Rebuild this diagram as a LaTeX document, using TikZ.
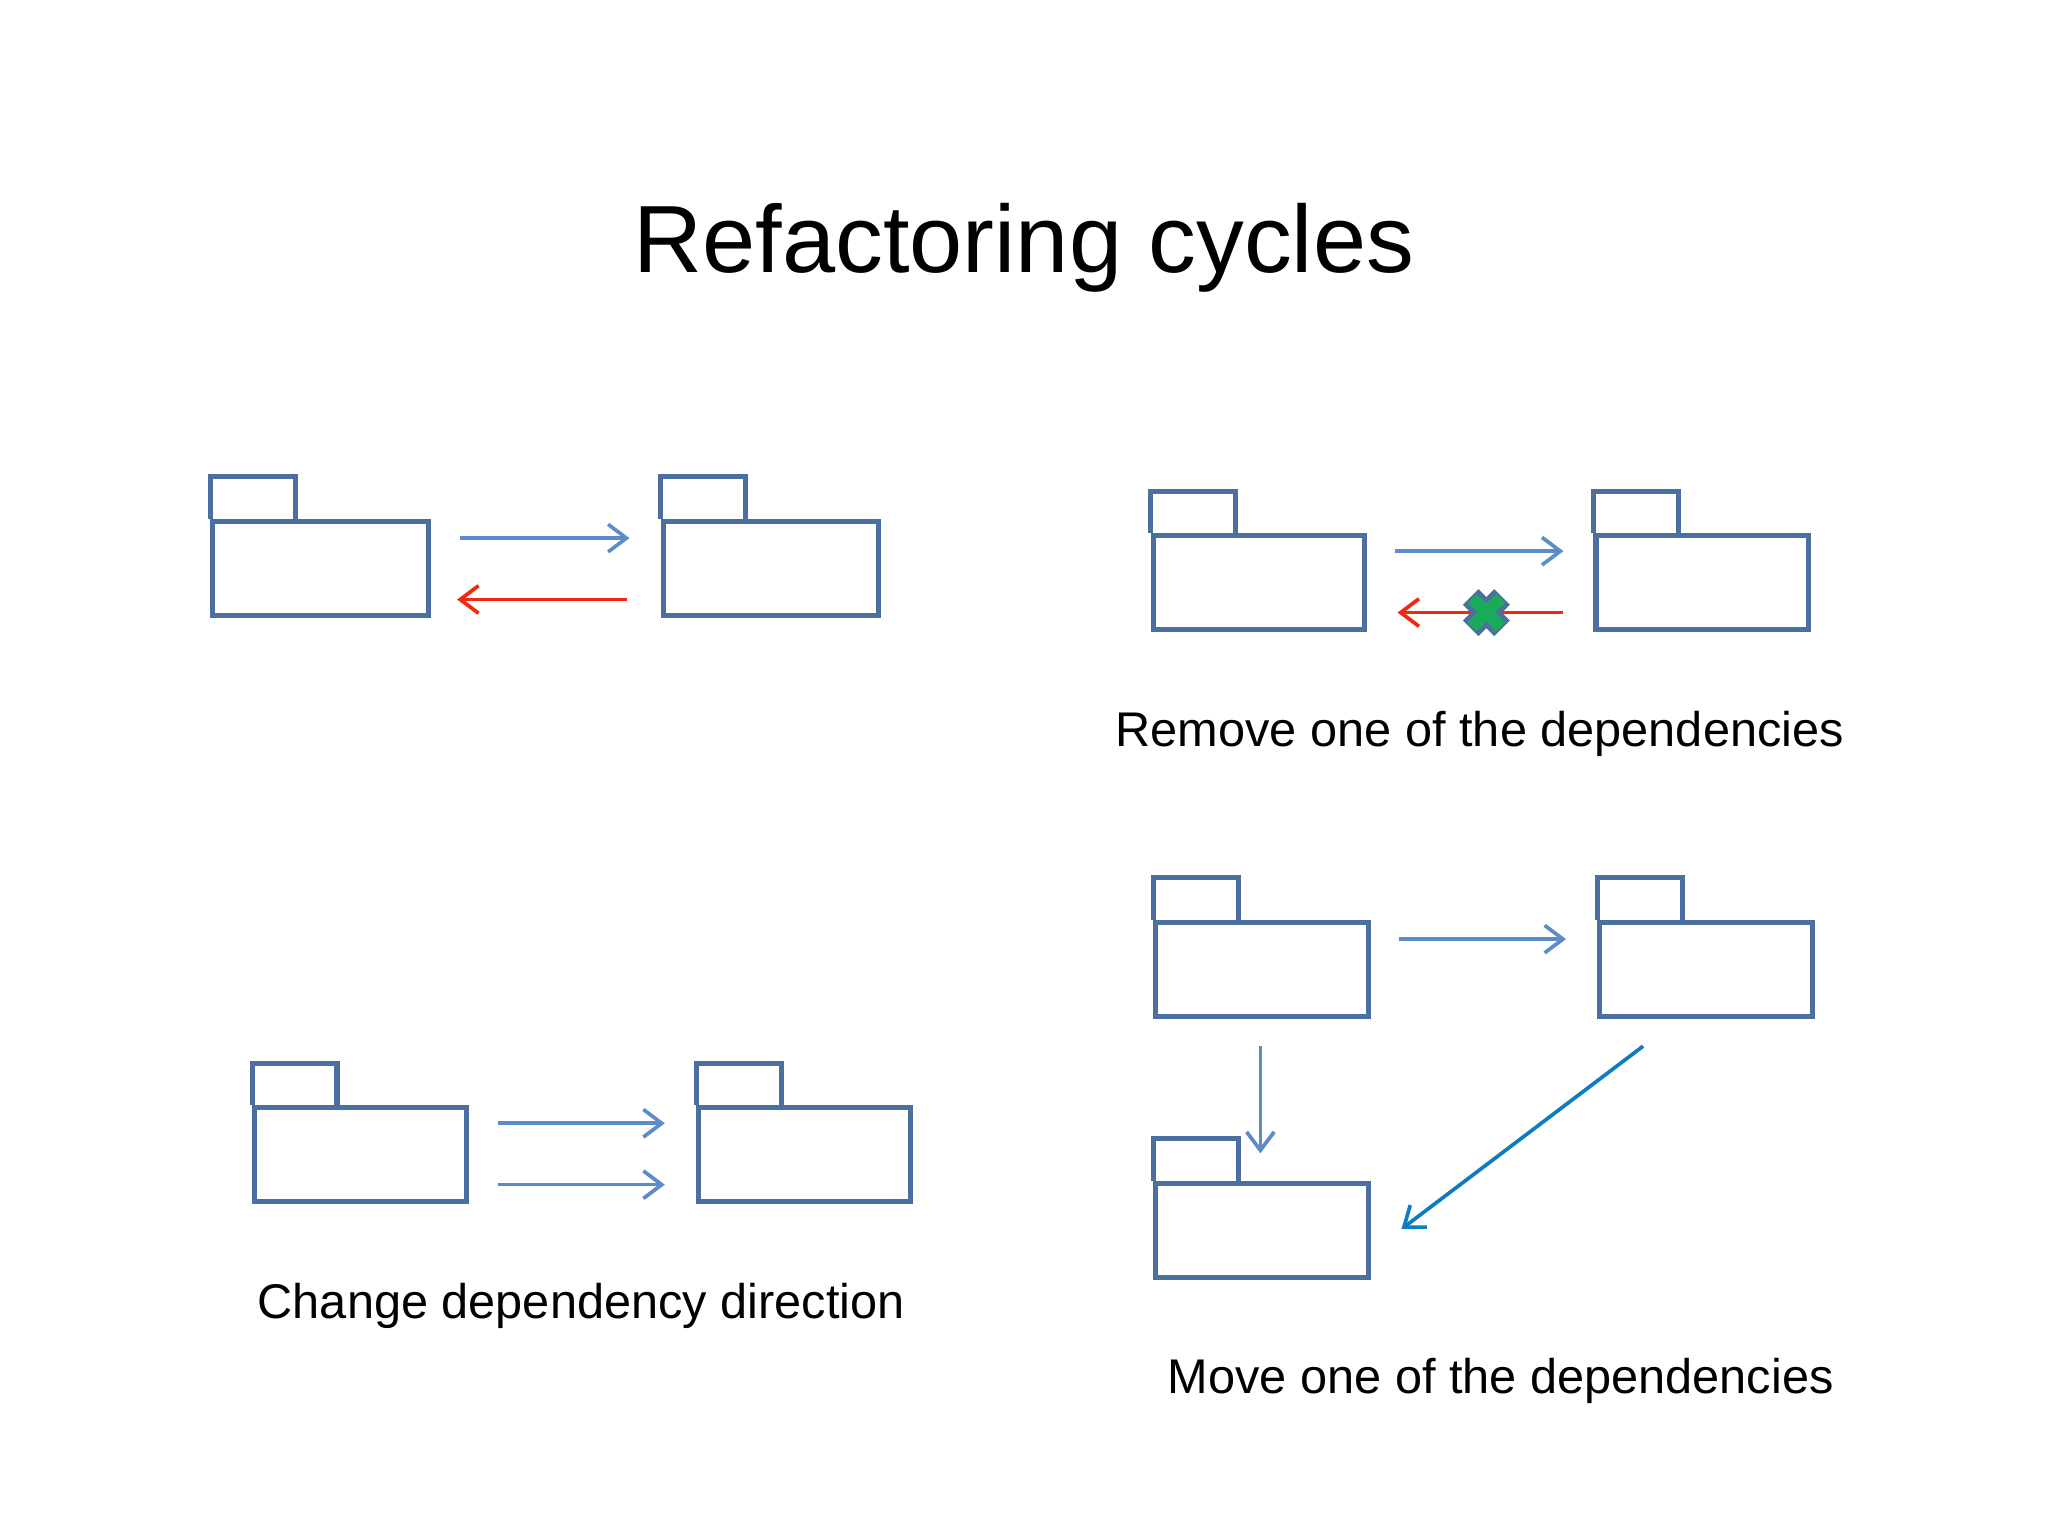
\documentclass[tikz,border=0pt]{standalone}
\usepackage{fontspec}
\setmainfont{Liberation Sans}
\usetikzlibrary{arrows.meta}
\definecolor{fold}{HTML}{4A6FA0}
\definecolor{dep}{HTML}{5B8CC8}
\definecolor{bad}{HTML}{F02A10}
\definecolor{mv}{HTML}{0E7CC0}
\definecolor{xg}{HTML}{1BAA5A}
\begin{document}
\begin{tikzpicture}[x=0.01cm,y=-0.01cm,
  folder/.style={draw=fold,line width=1.1pt,fill=white,minimum height=0.72cm,inner sep=0,anchor=north west},
  tab/.style={draw=fold,line width=1.1pt,line join=miter},
  arr/.style={line width=0.8pt,-{Straight Barb[length=4pt,width=6pt,line width=0.8pt]}},
  lbl/.style={font=\fontsize{10.6pt}{12pt}\selectfont}]
\useasboundingbox (0,0) rectangle (1568,1176);
\newcommand{\fold}[3]{%
  \node[folder,minimum width=#3*0.01cm] (#1) at (#2) {};
  \draw[tab] (#1.north west) -- ++(0,-32) -- ++(65,0) -- ++(0,32);}
\fold{A}{161,397}{165}
\fold{B}{506,397}{165}
\fold{C}{881,408}{162}
\fold{D}{1220,408}{163}
\fold{E}{193,846}{162}
\fold{F}{533,846}{162}
\fold{G}{883,704}{163}
\fold{H}{1223,704}{163}
\fold{I}{883,904}{163}
\node[font=\fontsize{20.8pt}{24pt}\selectfont] (title) at (784,190) {Refactoring cycles};
\coordinate (a1) at (352,412); \coordinate (a2) at (482,412);
\coordinate (a3) at (480,459); \coordinate (a4) at (350,459);
\draw[arr,dep] (a1) -- (a2);
\draw[arr,bad] (a3) -- (a4);
\coordinate (c1) at (1068,422); \coordinate (c2) at (1197,422);
\coordinate (c3) at (1197,469); \coordinate (c4) at (1070,469);
\draw[arr,dep] (c1) -- (c2);
\draw[arr,bad] (c3) -- (c4);
\coordinate (x) at (1138,469);
\draw[fold,line width=4.8pt] (x) ++(-12,-12) -- ++(24,24);
\draw[fold,line width=4.8pt] (x) ++(-12,12) -- ++(24,-24);
\draw[xg,line width=2.8pt] (x) ++(-11,-11) -- ++(22,22);
\draw[xg,line width=2.8pt] (x) ++(-11,11) -- ++(22,-22);
\node[lbl] (l1) at (1133,562) {Remove one of the dependencies};
\coordinate (e1) at (381,860); \coordinate (e2) at (509,860);
\coordinate (e3) at (381,907); \coordinate (e4) at (509,907);
\draw[arr,dep] (e1) -- (e2);
\draw[arr,dep] (e3) -- (e4);
\node[lbl] (l2) at (445,1000) {Change dependency direction};
\coordinate (g1) at (1071,719); \coordinate (g2) at (1199,719);
\draw[arr,dep] (g1) -- (g2);
\coordinate (g3) at (965,801); \coordinate (g4) at (965,883);
\draw[arr,dep] (g3) -- (g4);
\coordinate (h1) at (1258,801); \coordinate (h2) at (1073,941);
\draw[arr,mv] (h1) -- (h2);
\node[lbl] (l3) at (1149,1057) {Move one of the dependencies};
\end{tikzpicture}
\end{document}
